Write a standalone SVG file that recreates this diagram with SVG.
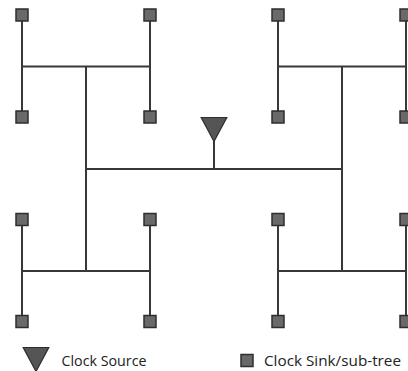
<svg xmlns="http://www.w3.org/2000/svg" width="408" height="371" viewBox="0 0 408 371">
  <defs>
    <style>
      .wire { stroke: #383838; stroke-width: 2; fill: none; stroke-linecap: butt; }
      .sink { fill: #696969; stroke: #2e2e2e; stroke-width: 1.5; }
      .src { fill: #555555; stroke: #2e2e2e; stroke-width: 1.2; stroke-linejoin: miter; }
      .lbl { font-family: "Open Sans", "Noto Sans", "Liberation Sans", sans-serif; font-size: 14.4px; fill: #222222; }
    </style>
    <rect id="sq" x="-6" y="-6" width="12" height="12" class="sink"/>
    <path id="tri" d="M -12.8 0 L 12.8 0 L 0 24 Z" class="src"/>
  </defs>
  <rect width="408" height="371" fill="#ffffff"/>

  <!-- H-tree wiring -->
  <g id="connectors">
    <!-- trunk from source -->
    <line class="wire" x1="214" y1="141" x2="214" y2="169"/>
    <line class="wire" x1="86" y1="169" x2="342" y2="169"/>
    <!-- second-level trunks -->
    <line class="wire" x1="86" y1="66.5" x2="86" y2="271"/>
    <line class="wire" x1="342" y1="66.5" x2="342" y2="271"/>
    <!-- leaf H bars -->
    <line class="wire" x1="22" y1="66.5" x2="150" y2="66.5"/>
    <line class="wire" x1="278" y1="66.5" x2="406" y2="66.5"/>
    <line class="wire" x1="22" y1="271" x2="150" y2="271"/>
    <line class="wire" x1="278" y1="271" x2="406" y2="271"/>
    <!-- leaf verticals -->
    <line class="wire" x1="22" y1="15" x2="22" y2="117"/>
    <line class="wire" x1="150" y1="15" x2="150" y2="117"/>
    <line class="wire" x1="278" y1="15" x2="278" y2="117"/>
    <line class="wire" x1="406" y1="15" x2="406" y2="117"/>
    <line class="wire" x1="22" y1="219.5" x2="22" y2="321.5"/>
    <line class="wire" x1="150" y1="219.5" x2="150" y2="321.5"/>
    <line class="wire" x1="278" y1="219.5" x2="278" y2="321.5"/>
    <line class="wire" x1="406" y1="219.5" x2="406" y2="321.5"/>
  </g>

  <!-- clock source -->
  <g id="source">
    <use href="#tri" x="214" y="117.5"/>
  </g>

  <!-- clock sinks -->
  <g id="sink-1"><use href="#sq" x="22" y="15"/></g>
  <g id="sink-2"><use href="#sq" x="150" y="15"/></g>
  <g id="sink-3"><use href="#sq" x="278" y="15"/></g>
  <g id="sink-4"><use href="#sq" x="406" y="15"/></g>
  <g id="sink-5"><use href="#sq" x="22" y="117"/></g>
  <g id="sink-6"><use href="#sq" x="150" y="117"/></g>
  <g id="sink-7"><use href="#sq" x="278" y="117"/></g>
  <g id="sink-8"><use href="#sq" x="406" y="117"/></g>
  <g id="sink-9"><use href="#sq" x="22" y="219.5"/></g>
  <g id="sink-10"><use href="#sq" x="150" y="219.5"/></g>
  <g id="sink-11"><use href="#sq" x="278" y="219.5"/></g>
  <g id="sink-12"><use href="#sq" x="406" y="219.5"/></g>
  <g id="sink-13"><use href="#sq" x="22" y="321.5"/></g>
  <g id="sink-14"><use href="#sq" x="150" y="321.5"/></g>
  <g id="sink-15"><use href="#sq" x="278" y="321.5"/></g>
  <g id="sink-16"><use href="#sq" x="406" y="321.5"/></g>

  <!-- legend -->
  <g id="legend-source">
    <use href="#tri" x="36" y="347.5"/>
    <text class="lbl" x="61.5" y="366" textLength="85" lengthAdjust="spacingAndGlyphs">Clock Source</text>
  </g>
  <g id="legend-sink">
    <use href="#sq" x="247" y="360.5"/>
    <text class="lbl" x="264" y="366" textLength="137" lengthAdjust="spacingAndGlyphs">Clock Sink/sub-tree</text>
  </g>
</svg>
